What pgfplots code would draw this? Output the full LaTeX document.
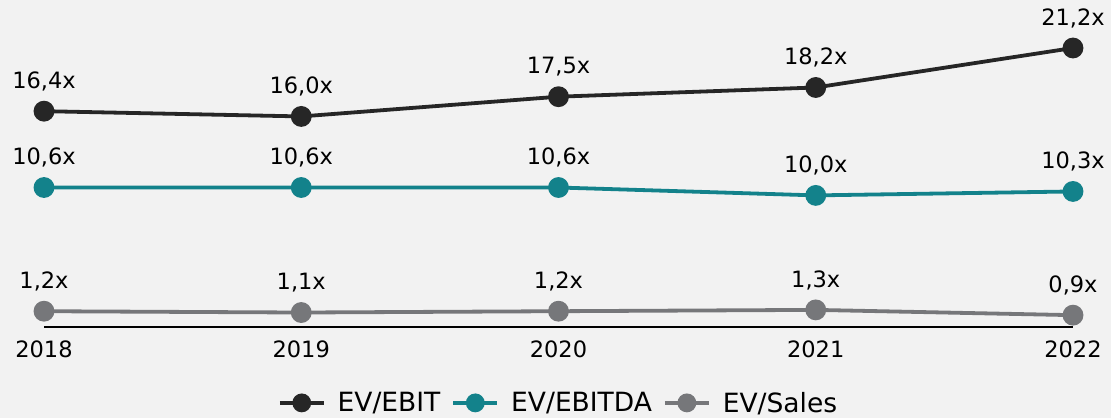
\documentclass[border=0pt]{standalone}
\usepackage{pgfplots}
\pgfplotsset{compat=1.18}
\usepackage{fontspec}
\setmainfont{DejaVu Sans}
\definecolor{bg}{HTML}{F2F2F2}
\definecolor{cEBIT}{HTML}{262626}
\definecolor{cEBITDA}{HTML}{13828B}
\definecolor{cSales}{HTML}{76777A}
\begin{document}
\begin{tikzpicture}[x=1pt,y=1pt]
\fill[bg] (0,0) rectangle (1111,418);
\path[use as bounding box] (0,0) rectangle (1111,418);
\begin{axis}[
  at={(44pt,91pt)}, anchor=south west,
  scale only axis, width=1029pt, height=279pt,
  xmin=0, xmax=4, ymin=0, ymax=21.2,
  clip=false,
  axis x line*=bottom, axis y line=none,
  x axis line style={black, line width=1.3pt, -},
  xtick={0,1,2,3,4}, xticklabels={2018,2019,2020,2021,2022},
  major tick length=0pt,
  xticklabel style={font=\fontsize{22.5}{26}\selectfont, yshift=-10pt},
  ytick=\empty,
  nodes near coords, point meta=explicit symbolic,
  every node near coord/.append style={font=\fontsize{22.5}{26}\selectfont, anchor=south, yshift=15pt, text=black},
  every axis plot/.append style={line width=3.8pt, mark=*, mark size=8.5pt},
  legend style={at={(0.5,-0.272)}, anchor=center, draw=none, fill=none,
    font=\fontsize{26.5}{30}\selectfont, legend columns=3,
    /tikz/every odd column/.append style={column sep=10pt},
    /tikz/every even column/.append style={column sep=9pt}},
  legend image code/.code={\draw[#1, mark repeat=2, mark phase=2, mark size=7.5pt] plot coordinates {(0pt,0pt)(22pt,0pt)(44pt,0pt)};},
]
\addplot[cEBIT, mark options={fill=cEBIT, draw=cEBIT}] coordinates {(0,16.4)[16,4x] (1,16.0)[16,0x] (2,17.5)[17,5x] (3,18.2)[18,2x] (4,21.2)[21,2x]};
\addlegendentry{EV/EBIT}
\addplot[cEBITDA, mark options={fill=cEBITDA, draw=cEBITDA}] coordinates {(0,10.6)[10,6x] (1,10.6)[10,6x] (2,10.6)[10,6x] (3,10.0)[10,0x] (4,10.3)[10,3x]};
\addlegendentry{EV/EBITDA}
\addplot[cSales, mark options={fill=cSales, draw=cSales}] coordinates {(0,1.2)[1,2x] (1,1.1)[1,1x] (2,1.2)[1,2x] (3,1.3)[1,3x] (4,0.9)[0,9x]};
\addlegendentry{EV/Sales}
\end{axis}
\end{tikzpicture}
\end{document}
